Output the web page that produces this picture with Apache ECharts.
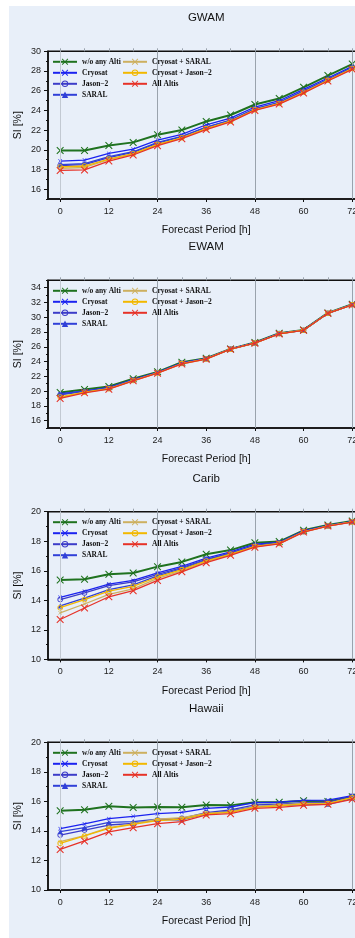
<!DOCTYPE html>
<html>
<head>
<meta charset="utf-8">
<script src="https://cdn.jsdelivr.net/npm/echarts@6/dist/echarts.min.js"></script>
<style>
html,body{margin:0;padding:0;background:#fff;}
#c{position:absolute;left:9px;top:6px;width:346px;height:932px;}
</style>
</head>
<body>
<div id="c"></div>
<script>
// ---------------- DATA ----------------
const hours = [0, 6, 12, 18, 24, 30, 36, 42, 48, 54, 60, 66, 72];
const seriesNames = ['w/o any Alti', 'Cryosat', 'Jason\u22122', 'SARAL', 'Cryosat + SARAL', 'Cryosat + Jason\u22122', 'All Altis'];
const panelTitles = ['GWAM', 'EWAM', 'Carib', 'Hawaii'];
const xTickLabels = [0, 12, 24, 36, 48, 60, 72];
const xMinorTicks = [0, 6, 12, 18, 24, 30, 36, 42, 48, 54, 60, 66, 72];
const xGridLines = [0, 24, 48, 72];
const yRanges = [[15, 30], [15, 35], [10, 20], [10, 20]];
const yTickLabels = [
  [16, 18, 20, 22, 24, 26, 28, 30],
  [16, 18, 20, 22, 24, 26, 28, 30, 32, 34],
  [10, 12, 14, 16, 18, 20],
  [10, 12, 14, 16, 18, 20]
];

// GWAM
const gwamNoAlti   = [19.93, 19.93, 20.44, 20.75, 21.53, 22.00, 22.88, 23.53, 24.60, 25.20, 26.34, 27.53, 28.70];
const gwamCryosat  = [18.85, 18.95, 19.63, 20.07, 20.98, 21.56, 22.54, 23.22, 24.34, 24.98, 26.14, 27.29, 28.47];
const gwamJason2   = [18.40, 18.50, 19.20, 19.73, 20.68, 21.30, 22.27, 22.98, 24.14, 24.78, 25.93, 27.12, 28.34];
const gwamSaral    = [18.50, 18.60, 19.30, 19.80, 20.75, 21.35, 22.30, 23.02, 24.18, 24.82, 25.98, 27.16, 28.38];
const gwamCryoSar  = [18.10, 18.20, 19.00, 19.55, 20.50, 21.20, 22.12, 22.88, 24.04, 24.68, 25.82, 27.02, 28.22];
const gwamCryoJas  = [18.25, 18.35, 19.05, 19.60, 20.55, 21.22, 22.15, 22.90, 24.06, 24.70, 25.84, 27.05, 28.25];
const gwamAll      = [17.90, 17.95, 18.85, 19.47, 20.41, 21.13, 22.05, 22.83, 24.00, 24.64, 25.76, 26.98, 28.17];

// EWAM
const ewamNoAlti   = [19.81, 20.22, 20.62, 21.66, 22.60, 23.91, 24.45, 25.71, 26.57, 27.83, 28.28, 30.58, 31.75];
const ewamCryosat  = [19.65, 20.00, 20.50, 21.55, 22.52, 23.82, 24.40, 25.70, 26.53, 27.80, 28.26, 30.56, 31.72];
const ewamJason2   = [19.50, 19.95, 20.42, 21.50, 22.48, 23.78, 24.38, 25.69, 26.51, 27.78, 28.25, 30.55, 31.70];
const ewamSaral    = [19.60, 19.98, 20.45, 21.52, 22.50, 23.80, 24.39, 25.70, 26.52, 27.79, 28.25, 30.55, 31.71];
const ewamCryoSar  = [19.12, 19.82, 20.30, 21.42, 22.44, 23.70, 24.34, 25.68, 26.49, 27.75, 28.24, 30.54, 31.67];
const ewamCryoJas  = [19.20, 19.85, 20.32, 21.43, 22.45, 23.72, 24.35, 25.68, 26.50, 27.76, 28.24, 30.54, 31.68];
const ewamAll      = [19.00, 19.77, 20.26, 21.39, 22.42, 23.68, 24.32, 25.67, 26.48, 27.74, 28.23, 30.53, 31.66];

// Carib
const caribNoAlti  = [15.37, 15.42, 15.76, 15.85, 16.28, 16.60, 17.12, 17.40, 17.90, 17.98, 18.74, 19.10, 19.37];
const caribCryosat = [14.20, 14.62, 15.10, 15.35, 15.85, 16.30, 16.85, 17.28, 17.80, 17.93, 18.70, 19.07, 19.33];
const caribJason2  = [14.05, 14.50, 15.00, 15.25, 15.75, 16.22, 16.78, 17.22, 17.72, 17.90, 18.67, 19.05, 19.32];
const caribSaral   = [13.62, 14.15, 14.72, 15.05, 15.65, 16.15, 16.72, 17.17, 17.68, 17.87, 18.65, 19.04, 19.32];
const caribCryoSar = [13.15, 13.75, 14.40, 14.78, 15.48, 16.00, 16.62, 17.10, 17.63, 17.84, 18.63, 19.03, 19.31];
const caribCryoJas = [13.50, 14.05, 14.62, 14.95, 15.58, 16.08, 16.67, 17.13, 17.65, 17.85, 18.64, 19.04, 19.31];
const caribAll     = [12.70, 13.48, 14.24, 14.65, 15.35, 15.93, 16.55, 17.05, 17.60, 17.82, 18.62, 19.03, 19.30];

// Hawaii
const hawaiiNoAlti  = [15.37, 15.44, 15.67, 15.58, 15.62, 15.60, 15.76, 15.73, 15.94, 15.94, 16.05, 16.00, 16.32];
const hawaiiCryosat = [14.15, 14.47, 14.83, 14.99, 15.17, 15.26, 15.53, 15.62, 15.91, 15.94, 16.07, 16.09, 16.39];
const hawaiiJason2  = [13.72, 14.06, 14.40, 14.51, 14.74, 14.85, 15.24, 15.42, 15.76, 15.82, 15.91, 15.94, 16.34];
const hawaiiSaral   = [13.95, 14.22, 14.58, 14.63, 14.79, 14.74, 15.17, 15.35, 15.64, 15.71, 15.80, 15.80, 16.21];
const hawaiiCryoSar = [13.27, 13.68, 14.22, 14.47, 14.79, 14.90, 15.19, 15.30, 15.64, 15.76, 15.87, 15.87, 16.25];
const hawaiiCryoJas = [13.16, 13.66, 14.18, 14.45, 14.70, 14.79, 15.15, 15.26, 15.60, 15.69, 15.82, 15.85, 16.25];
const hawaiiAll     = [12.75, 13.32, 13.93, 14.22, 14.49, 14.63, 15.08, 15.17, 15.53, 15.60, 15.73, 15.80, 16.14];

const panelData = [
  [gwamNoAlti, gwamCryosat, gwamJason2, gwamSaral, gwamCryoSar, gwamCryoJas, gwamAll],
  [ewamNoAlti, ewamCryosat, ewamJason2, ewamSaral, ewamCryoSar, ewamCryoJas, ewamAll],
  [caribNoAlti, caribCryosat, caribJason2, caribSaral, caribCryoSar, caribCryoJas, caribAll],
  [hawaiiNoAlti, hawaiiCryosat, hawaiiJason2, hawaiiSaral, hawaiiCryoSar, hawaiiCryoJas, hawaiiAll]
];

// ---------------- STYLE ----------------
const X_PATH = 'path://M0,1L1,0L5,4L9,0L10,1L6,5L10,9L9,10L5,6L1,10L0,9L4,5Z';
const RING_PATH = 'path://M5,0A5,5,0,1,0,5,10A5,5,0,1,0,5,0ZM5,1.5A3.5,3.5,0,1,1,5,8.5A3.5,3.5,0,1,1,5,1.5Z';
const styles = [
  {color: '#1f721f', symbol: X_PATH, size: 7.5, width: 2},
  {color: '#1a22f0', symbol: X_PATH, size: 4, width: 1.3},
  {color: '#3c3cc8', symbol: RING_PATH, size: 5.5, width: 1.3},
  {color: '#3040d8', symbol: 'triangle', size: 5, width: 1.3},
  {color: '#cdb060', symbol: X_PATH, size: 4, width: 1.3},
  {color: '#f2b800', symbol: RING_PATH, size: 5.5, width: 1.3},
  {color: '#e63228', symbol: X_PATH, size: 7.5, width: 1.3}
];

const FONT = '"Liberation Sans", Arial, Helvetica, sans-serif';
const gridTops = [45.3, 274.3, 505.7, 736.3];
const gridH = 147.7;
const gridLeft = 39;
const gridW = 316.4;
const titleCenterX = gridLeft + gridW / 2;

const option = {
  backgroundColor: '#e8eff9',
  animation: false,
  title: [], grid: [], xAxis: [], yAxis: [], legend: [], series: []
};

panelTitles.forEach((t, i) => {
  const top = gridTops[i];
  option.title.push({
    text: t, left: titleCenterX, top: top - 40, textAlign: 'center', padding: 0,
    textStyle: {fontFamily: FONT, fontSize: 11.5, fontWeight: 'normal', color: '#111', lineHeight: 14}
  });
  option.grid.push({
    left: gridLeft, top: top, width: gridW, height: gridH,
    outerBoundsMode: 'none', containLabel: false,
    show: true, borderColor: '#111', borderWidth: 1.5, backgroundColor: 'transparent'
  });
  // bottom x axis
  option.xAxis.push({
    type: 'value', gridIndex: i, min: -3, max: 75, position: 'bottom',
    name: 'Forecast Period [h]', nameLocation: 'middle', nameGap: 26, nameMoveOverlap: false,
    nameTextStyle: {fontFamily: FONT, fontSize: 10.5, color: '#111'},
    axisLine: {show: true, onZero: false, lineStyle: {color: '#111', width: 1.5}},
    axisTick: {show: true, customValues: xTickLabels, length: 3, lineStyle: {color: '#111'}},
    axisLabel: {customValues: xTickLabels, fontFamily: FONT, fontSize: 9, color: '#222', margin: 8},
    splitLine: {show: false}
  });
  // top x axis (ticks only)
  option.xAxis.push({
    type: 'value', gridIndex: i, min: -3, max: 75, position: 'top',
    axisLine: {show: false, onZero: false},
    axisTick: {show: true, customValues: xMinorTicks, length: 3, lineStyle: {color: '#9aa3ad'}},
    axisLabel: {show: false}, splitLine: {show: false}
  });
  const [ymin, ymax] = yRanges[i];
  option.yAxis.push({
    type: 'value', gridIndex: i, min: ymin, max: ymax, position: 'left',
    name: 'SI [%]', nameLocation: 'middle', nameGap: 24, nameMoveOverlap: false,
    nameTextStyle: {fontFamily: FONT, fontSize: 10.5, color: '#111'},
    axisLine: {show: true, onZero: false, lineStyle: {color: '#111', width: 1.5}},
    axisTick: {show: true, customValues: yTickLabels[i], length: 4, lineStyle: {color: '#111'}},
    axisLabel: {customValues: yTickLabels[i], fontFamily: FONT, fontSize: 9, color: '#222', margin: 7},
    splitLine: {show: false}
  });
  option.yAxis.push({
    type: 'value', gridIndex: i, min: ymin, max: ymax, interval: 1, position: 'left',
    axisLine: {show: false, onZero: false},
    axisTick: {show: true, length: 2, lineStyle: {color: '#111'}},
    axisLabel: {show: false}, splitLine: {show: false}
  });
  const legendCommon = {
    orient: 'vertical', top: top + 6.5, itemWidth: 24, itemHeight: 8, itemGap: 3, padding: 0,
    selectedMode: false,
    textStyle: {fontFamily: '"Liberation Serif", "Times New Roman", serif', fontWeight: 'bold', fontSize: 7.5, color: '#111', lineHeight: 8}
  };
  option.legend.push(Object.assign({left: 43, data: seriesNames.slice(0, 4)}, legendCommon));
  option.legend.push(Object.assign({left: 113, data: seriesNames.slice(4)}, legendCommon));

  // vertical grey lines
  option.series.push({
    type: 'line', xAxisIndex: i * 2, yAxisIndex: i * 2, data: [], z: 1, silent: true,
    markLine: {
      silent: true, symbol: 'none', label: {show: false},
      data: xGridLines.map(v => ({xAxis: v, lineStyle: {color: v === 0 ? '#c2c9d2' : '#9aa3ad', width: 1, type: 'solid'}}))
    }
  });

  panelData[i].forEach((arr, k) => {
    const s = styles[k];
    option.series.push({
      type: 'line', name: seriesNames[k], xAxisIndex: i * 2, yAxisIndex: i * 2,
      data: hours.map((h, j) => [h, arr[j]]),
      symbol: s.symbol, symbolSize: s.size, showAllSymbol: true,
      lineStyle: {color: s.color, width: s.width},
      itemStyle: {color: s.color},
      z: 2 + k
    });
  });
});

const chart = echarts.init(document.getElementById('c'));
chart.setOption(option);
</script>
</body>
</html>
